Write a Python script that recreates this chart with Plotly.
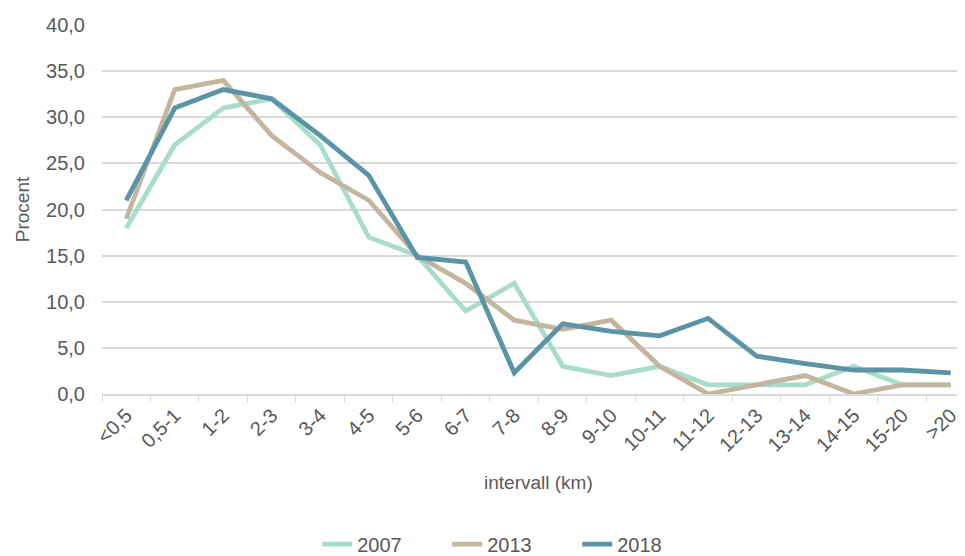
import plotly.graph_objects as go

categories = ["<0,5", "0,5-1", "1-2", "2-3", "3-4", "4-5", "5-6", "6-7", "7-8", "8-9",
              "9-10", "10-11", "11-12", "12-13", "13-14", "14-15", "15-20", ">20"]
y2007 = [18, 27, 31, 32, 27, 17, 15, 9, 12, 3, 2, 3, 1, 1, 1, 3, 1, 1]
y2013 = [19, 33, 34, 28, 24, 21, 15, 12, 8, 7, 8, 3, 0, 1, 2, 0, 1, 1]
y2018 = [21, 31, 33, 32, 28, 23.7, 14.8, 14.3, 2.3, 7.6, 6.8, 6.3, 8.2, 4.1, 3.3, 2.6, 2.6, 2.3]
ytickvals = [0, 5, 10, 15, 20, 25, 30, 35, 40]
yticktext = ["0,0", "5,0", "10,0", "15,0", "20,0", "25,0", "30,0", "35,0", "40,0"]

FONT = "Liberation Sans, Arial, sans-serif"
GRAY = "#595959"

fig = go.Figure()
for name, vals, col in [("2007", y2007, "#A8DCCB"), ("2013", y2013, "#C4B59E"), ("2018", y2018, "#5B94A6")]:
    fig.add_trace(go.Scatter(x=categories, y=vals, mode="lines", name=name,
                             line=dict(color=col, width=4.8)))

fig.update_layout(
    width=965, height=556,
    margin=dict(l=94, r=0, t=17, b=168),
    paper_bgcolor="white", plot_bgcolor="white",
    font=dict(family=FONT, size=19, color=GRAY),
    showlegend=True,
    legend=dict(orientation="h", x=0.471, xanchor="center", y=-0.407, yanchor="middle",
                font=dict(size=20, color=GRAY), entrywidth=85, entrywidthmode="pixels",
                traceorder="normal"),
    xaxis=dict(type="category", range=[-0.5, 17.46], tickangle=-45, automargin=False,
               showline=True, linecolor="#d9d9d9", linewidth=1.5,
               ticks="outside", tickson="boundaries", ticklen=6, tickcolor="#d9d9d9",
               showgrid=False, tickfont=dict(size=20, color=GRAY)),
    yaxis=dict(range=[0, 40], tickvals=ytickvals, ticktext=yticktext, automargin=False,
               showgrid=True, gridcolor="#d9d9d9", gridwidth=1.5, zeroline=False,
               ticks="", ticklabelstandoff=16, tickfont=dict(size=20, color=GRAY),
               title=dict(text="Procent", font=dict(size=19, color=GRAY), standoff=11)),
    annotations=[dict(text="intervall (km)", xref="paper", yref="paper",
                      x=0.5006, y=-0.24, xanchor="center", yanchor="middle",
                      showarrow=False, font=dict(size=19, color=GRAY))],
)

fig.write_html("out.html")
